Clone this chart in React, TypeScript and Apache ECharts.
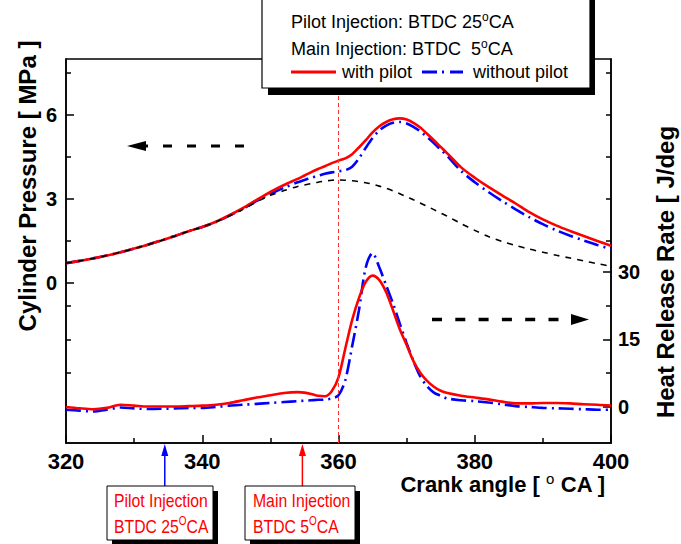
import React, { useEffect, useRef } from 'react';
import * as echarts from 'echarts';

// ---------- data ----------
const crankAngle = [
  320, 322, 324, 326, 328, 330, 332, 334, 336, 338, 340, 342, 344, 346, 348, 350, 352, 354,
  355, 356, 357, 358, 359, 360, 361, 362, 363, 364, 365, 366, 367, 368, 369, 370, 371, 372, 373, 374, 375, 376,
  378, 380, 382, 384, 386, 388, 390, 392, 394, 396, 398, 400,
];

const pressureMotoring = [
  0.71, 0.79, 0.88, 0.98, 1.10, 1.23, 1.37, 1.52, 1.68, 1.85, 2.00, 2.18, 2.40, 2.63, 2.90, 3.13, 3.30, 3.45,
  3.50, 3.55, 3.60, 3.64, 3.67, 3.68, 3.67, 3.65, 3.62, 3.58, 3.53, 3.46, 3.38, 3.29, 3.19, 3.08, 2.97, 2.86, 2.74, 2.62, 2.50, 2.38,
  2.12, 1.88, 1.66, 1.48, 1.34, 1.21, 1.10, 0.99, 0.89, 0.79, 0.69, 0.60,
];

const pressureWithPilot = [
  0.71, 0.79, 0.88, 0.98, 1.10, 1.23, 1.37, 1.52, 1.68, 1.85, 2.00, 2.19, 2.42, 2.68, 2.97, 3.25, 3.50, 3.72,
  3.84, 3.96, 4.07, 4.17, 4.28, 4.37, 4.45, 4.60, 4.84, 5.10, 5.38, 5.60, 5.75, 5.85, 5.88, 5.84, 5.72, 5.55, 5.33, 5.10, 4.86, 4.62,
  4.13, 3.76, 3.43, 3.13, 2.84, 2.53, 2.27, 2.05, 1.86, 1.68, 1.50, 1.33,
];

const pressureWithoutPilot = [
  0.71, 0.79, 0.88, 0.98, 1.10, 1.23, 1.37, 1.52, 1.68, 1.85, 2.00, 2.18, 2.41, 2.65, 2.93, 3.18, 3.40, 3.60,
  3.68, 3.76, 3.83, 3.90, 3.95, 3.99, 4.03, 4.15, 4.45, 4.83, 5.18, 5.45, 5.62, 5.72, 5.75, 5.70, 5.58, 5.42, 5.22, 5.00, 4.76, 4.53,
  4.00, 3.60, 3.25, 2.93, 2.63, 2.35, 2.10, 1.88, 1.69, 1.52, 1.36, 1.21,
];

const hrrWithPilot = [
  0.0, -0.3, -0.5, -0.2, 0.5, 0.3, 0.1, 0.1, 0.1, 0.2, 0.3, 0.5, 0.9, 1.5, 2.1, 2.6, 3.1, 3.3,
  3.2, 2.9, 2.5, 2.4, 3.5, 6.6, 13.0, 19.3, 24.2, 27.8, 29.2, 28.2, 25.5, 21.5, 17.3, 13.8, 10.2, 7.6, 5.8, 4.5, 3.6, 3.1,
  2.5, 2.1, 1.7, 1.2, 0.8, 0.8, 0.9, 0.9, 0.8, 0.6, 0.5, 0.3,
];

const hrrWithoutPilot = [
  -0.6, -0.8, -1.0, -0.6, -0.1, -0.3, -0.45, -0.4, -0.3, -0.2, -0.2, 0.0, 0.3, 0.5, 0.7, 0.9, 1.1, 1.3,
  1.4, 1.5, 1.6, 1.65, 1.9, 2.6, 6.0, 13.5, 21.5, 31.0, 34.2, 31.0, 27.0, 23.0, 18.5, 14.2, 10.2, 6.8, 4.6, 3.2, 2.5, 1.9,
  1.5, 1.3, 1.0, 0.6, 0.2, 0.0, -0.2, -0.3, -0.4, -0.5, -0.6, -0.6,
];

const xTickLabels = [320, 340, 360, 380, 400];
const pressureTickLabels = [0, 3, 6];
const pressureMinorTicks = [1.5, 4.5, 7.5];
const hrrTickLabels = [0, 15, 30];
const hrrMinorTicks = [7.5, 22.5];

const tdcAngle = 360;
const pilotArrowAngle = 334.5;
const mainArrowAngle = 354.7;

// ---------- layout ----------
const W = 681;
const H = 544;
const GRID = { left: 66, right: 70, top: 59, bottom: 101 };
const X_MIN = 320;
const X_MAX = 400;
const P_MIN = -5.714;
const P_MAX = 8;
const H_MIN = -8;
const H_MAX = 77.333;
const FONT = "'Liberation Sans', Arial, Helvetica, sans-serif";

const xPx = (a: number) => GRID.left + ((a - X_MIN) / (X_MAX - X_MIN)) * (W - GRID.left - GRID.right);
const hToP = (h: number) => P_MAX - ((H_MAX - h) * (P_MAX - P_MIN)) / (H_MAX - H_MIN);
const pToH = (p: number) => H_MAX - ((P_MAX - p) * (H_MAX - H_MIN)) / (P_MAX - P_MIN);

const leftMinor = [...pressureMinorTicks, ...hrrMinorTicks.map(hToP), hToP(15)];
const rightMinor = [...hrrMinorTicks, ...pressureMinorTicks.map(pToH), pToH(3), pToH(6)];

export default function App() {
  const ref = useRef<HTMLDivElement>(null);

  useEffect(() => {
    if (!ref.current) return;
    const chart = echarts.init(ref.current, undefined, { renderer: 'svg' });
    const pairs = (ys: number[]) => crankAngle.map((a, i) => [a, ys[i]]);
    const black = '#000';
    const tickLine = { color: black, width: 1.5 };

    const yBase = (pos: 'left' | 'right', min: number, max: number) => ({
      type: 'value',
      position: pos,
      min,
      max,
      splitLine: { show: false },
      axisLine: { show: true, onZero: false, lineStyle: tickLine },
    });

    const sup = (size: number) => ({
      fontSize: size,
      fontFamily: FONT,
      lineHeight: size + 1,
      verticalAlign: 'top',
    });

    const option: any = {
      animation: false,
      backgroundColor: '#fff',
      grid: {
        left: GRID.left,
        right: GRID.right,
        top: GRID.top,
        bottom: GRID.bottom,
        show: true,
        borderColor: black,
        borderWidth: 1.5,
        backgroundColor: 'transparent',
      },
      xAxis: [
        {
          type: 'value',
          position: 'bottom',
          min: X_MIN,
          max: X_MAX,
          interval: 20,
          splitLine: { show: false },
          axisLine: { show: true, onZero: false, lineStyle: tickLine },
          axisTick: { show: true, inside: true, length: 8, lineStyle: tickLine },
          minorTick: { show: true, splitNumber: 2, length: 5, lineStyle: tickLine },
          minorSplitLine: { show: false },
          axisLabel: {
            customValues: xTickLabels,
            color: black,
            fontSize: 22,
            fontWeight: 'bold',
            fontFamily: FONT,
            margin: 7,
          },
        },
      ],
      yAxis: [
        {
          ...yBase('left', P_MIN, P_MAX),
          axisTick: { show: true, inside: true, length: 8, customValues: pressureTickLabels, lineStyle: tickLine },
          axisLabel: {
            customValues: pressureTickLabels,
            color: black,
            fontSize: 20,
            fontWeight: 'bold',
            fontFamily: FONT,
            margin: 9,
          },
        },
        {
          ...yBase('right', H_MIN, H_MAX),
          axisTick: { show: true, inside: true, length: 8, customValues: hrrTickLabels, lineStyle: tickLine },
          axisLabel: {
            customValues: hrrTickLabels,
            color: black,
            fontSize: 20,
            fontWeight: 'bold',
            fontFamily: FONT,
            margin: 7,
          },
        },
        {
          ...yBase('left', P_MIN, P_MAX),
          axisLine: { show: false, onZero: false },
          axisTick: { show: true, inside: true, length: 5, customValues: leftMinor, lineStyle: tickLine },
          axisLabel: { show: false },
        },
        {
          ...yBase('right', H_MIN, H_MAX),
          axisLine: { show: false, onZero: false },
          axisTick: { show: true, inside: true, length: 5, customValues: rightMinor, lineStyle: tickLine },
          axisLabel: { show: false },
        },
      ],
      series: [
        {
          name: 'without pilot',
          type: 'line',
          yAxisIndex: 0,
          data: pairs(pressureWithoutPilot),
          symbol: 'none',
          smooth: 0.3,
          lineStyle: { color: '#0000ff', width: 2.6, type: [15, 5, 2, 5] },
        },
        {
          name: 'without pilot',
          type: 'line',
          yAxisIndex: 1,
          data: pairs(hrrWithoutPilot),
          symbol: 'none',
          smooth: 0.3,
          lineStyle: { color: '#0000ff', width: 2.6, type: [15, 5, 2, 5] },
        },
        {
          name: 'with pilot',
          type: 'line',
          yAxisIndex: 0,
          data: pairs(pressureWithPilot),
          symbol: 'none',
          smooth: 0.3,
          lineStyle: { color: '#ff0000', width: 2.6 },
        },
        {
          name: 'with pilot',
          type: 'line',
          yAxisIndex: 1,
          data: pairs(hrrWithPilot),
          symbol: 'none',
          smooth: 0.3,
          lineStyle: { color: '#ff0000', width: 2.6 },
        },
        {
          name: 'motoring',
          type: 'line',
          yAxisIndex: 0,
          data: pairs(pressureMotoring),
          symbol: 'none',
          smooth: 0.3,
          lineStyle: { color: black, width: 1.6, type: [6, 6] },
          markLine: {
            silent: true,
            symbol: ['none', 'none'],
            label: { show: false },
            lineStyle: { color: '#ff3030', width: 1, type: [4, 3] },
            data: [{ xAxis: tdcAngle }],
          },
        },
      ],
      graphic: [
        // legend box
        { type: 'rect', z: 100, shape: { x: 268, y: -4, width: 327, height: 99 }, style: { fill: black } },
        {
          type: 'rect',
          z: 101,
          shape: { x: 262, y: -6, width: 328, height: 94 },
          style: { fill: '#fff', stroke: black, lineWidth: 1.2 },
        },
        {
          type: 'text',
          z: 102,
          x: 291,
          y: 22,
          style: {
            text: 'Pilot Injection: BTDC 25{s|o}CA',
            fontSize: 18,
            fontFamily: FONT,
            lineHeight: 22,
            fill: black,
            align: 'left',
            verticalAlign: 'middle',
            rich: { s: sup(12) },
          },
        },
        {
          type: 'text',
          z: 102,
          x: 291,
          y: 49,
          style: {
            text: 'Main Injection: BTDC  5{s|o}CA',
            fontSize: 18,
            fontFamily: FONT,
            lineHeight: 22,
            fill: black,
            align: 'left',
            verticalAlign: 'middle',
            rich: { s: sup(12) },
          },
        },
        {
          type: 'line',
          z: 102,
          shape: { x1: 291, y1: 72, x2: 336, y2: 72 },
          style: { stroke: '#ff0000', lineWidth: 3 },
        },
        {
          type: 'text',
          z: 102,
          x: 342,
          y: 72,
          style: { text: 'with pilot', fontSize: 18, fontFamily: FONT, fill: black, align: 'left', verticalAlign: 'middle' },
        },
        {
          type: 'line',
          z: 102,
          shape: { x1: 422, y1: 72, x2: 463, y2: 72 },
          style: { stroke: '#0000ff', lineWidth: 3, lineDash: [15, 5, 2, 6] },
        },
        {
          type: 'text',
          z: 102,
          x: 473,
          y: 72,
          style: { text: 'without pilot', fontSize: 18, fontFamily: FONT, fill: black, align: 'left', verticalAlign: 'middle' },
        },
        // direction arrows inside plot
        {
          type: 'line',
          z: 50,
          shape: { x1: 244, y1: 146, x2: 140, y2: 146 },
          style: { stroke: black, lineWidth: 3, lineDash: [9, 15] },
        },
        {
          type: 'polygon',
          z: 50,
          shape: { points: [[127, 146], [146, 141], [146, 151]] },
          style: { fill: black },
        },
        {
          type: 'line',
          z: 50,
          shape: { x1: 432, y1: 319.5, x2: 562, y2: 319.5 },
          style: { stroke: black, lineWidth: 3.5, lineDash: [10, 13.3] },
        },
        {
          type: 'polygon',
          z: 50,
          shape: { points: [[589, 319.5], [571, 314], [571, 325]] },
          style: { fill: black },
        },
        // axis titles
        {
          type: 'text',
          x: 27,
          y: 186,
          rotation: Math.PI / 2,
          style: {
            text: 'Cylinder Pressure [ MPa ]',
            fontSize: 24,
            fontWeight: 'bold',
            fontFamily: FONT,
            fill: black,
            align: 'center',
            verticalAlign: 'middle',
          },
        },
        {
          type: 'text',
          x: 665,
          y: 272,
          rotation: Math.PI / 2,
          style: {
            text: 'Heat Release Rate [ J/deg',
            fontSize: 24,
            fontWeight: 'bold',
            fontFamily: FONT,
            fill: black,
            align: 'center',
            verticalAlign: 'middle',
          },
        },
        {
          type: 'text',
          x: 503,
          y: 484,
          style: {
            text: 'Crank angle [ {s|o} CA ]',
            fontSize: 22,
            fontWeight: 'bold',
            fontFamily: FONT,
            lineHeight: 26,
            fill: black,
            align: 'center',
            verticalAlign: 'middle',
            rich: { s: { ...sup(15), fontWeight: 'normal' } },
          },
        },
        // injection markers
        {
          type: 'line',
          shape: { x1: xPx(pilotArrowAngle), y1: 487, x2: xPx(pilotArrowAngle), y2: 452 },
          style: { stroke: '#0000ff', lineWidth: 1.5 },
        },
        {
          type: 'polygon',
          shape: {
            points: [
              [xPx(pilotArrowAngle), 444],
              [xPx(pilotArrowAngle) - 3.5, 456],
              [xPx(pilotArrowAngle) + 3.5, 456],
            ],
          },
          style: { fill: '#0000ff' },
        },
        {
          type: 'line',
          shape: { x1: xPx(mainArrowAngle), y1: 487, x2: xPx(mainArrowAngle), y2: 452 },
          style: { stroke: '#ff0000', lineWidth: 1.5 },
        },
        {
          type: 'polygon',
          shape: {
            points: [
              [xPx(mainArrowAngle), 444],
              [xPx(mainArrowAngle) - 3.5, 456],
              [xPx(mainArrowAngle) + 3.5, 456],
            ],
          },
          style: { fill: '#ff0000' },
        },
        { type: 'rect', shape: { x: 112, y: 491, width: 106, height: 54 }, style: { fill: black } },
        {
          type: 'rect',
          shape: { x: 107, y: 486, width: 106, height: 54 },
          style: { fill: '#fff', stroke: black, lineWidth: 1 },
        },
        {
          type: 'text',
          x: 114,
          y: 500,
          scaleX: 0.83,
          style: { text: 'Pilot Injection', fontSize: 19, fontFamily: FONT, fill: '#ff0000', align: 'left', verticalAlign: 'middle' },
        },
        {
          type: 'text',
          x: 114,
          y: 526,
          scaleX: 0.83,
          style: {
            text: 'BTDC 25{s|O}CA',
            fontSize: 19,
            fontFamily: FONT,
            lineHeight: 23,
            fill: '#ff0000',
            align: 'left',
            verticalAlign: 'middle',
            rich: { s: { ...sup(12), fill: '#ff0000' } },
          },
        },
        { type: 'rect', shape: { x: 250, y: 491, width: 110, height: 54 }, style: { fill: black } },
        {
          type: 'rect',
          shape: { x: 245, y: 486, width: 110, height: 54 },
          style: { fill: '#fff', stroke: black, lineWidth: 1 },
        },
        {
          type: 'text',
          x: 253,
          y: 500,
          scaleX: 0.83,
          style: { text: 'Main Injection', fontSize: 19, fontFamily: FONT, fill: '#ff0000', align: 'left', verticalAlign: 'middle' },
        },
        {
          type: 'text',
          x: 253,
          y: 526,
          scaleX: 0.83,
          style: {
            text: 'BTDC 5{s|O}CA',
            fontSize: 19,
            fontFamily: FONT,
            lineHeight: 23,
            fill: '#ff0000',
            align: 'left',
            verticalAlign: 'middle',
            rich: { s: { ...sup(12), fill: '#ff0000' } },
          },
        },
      ],
    };

    chart.setOption(option);
    return () => chart.dispose();
  }, []);

  return (
    <div
      ref={ref}
      style={{ position: 'absolute', left: 0, top: 0, width: W, height: H, background: '#fff' }}
    />
  );
}
